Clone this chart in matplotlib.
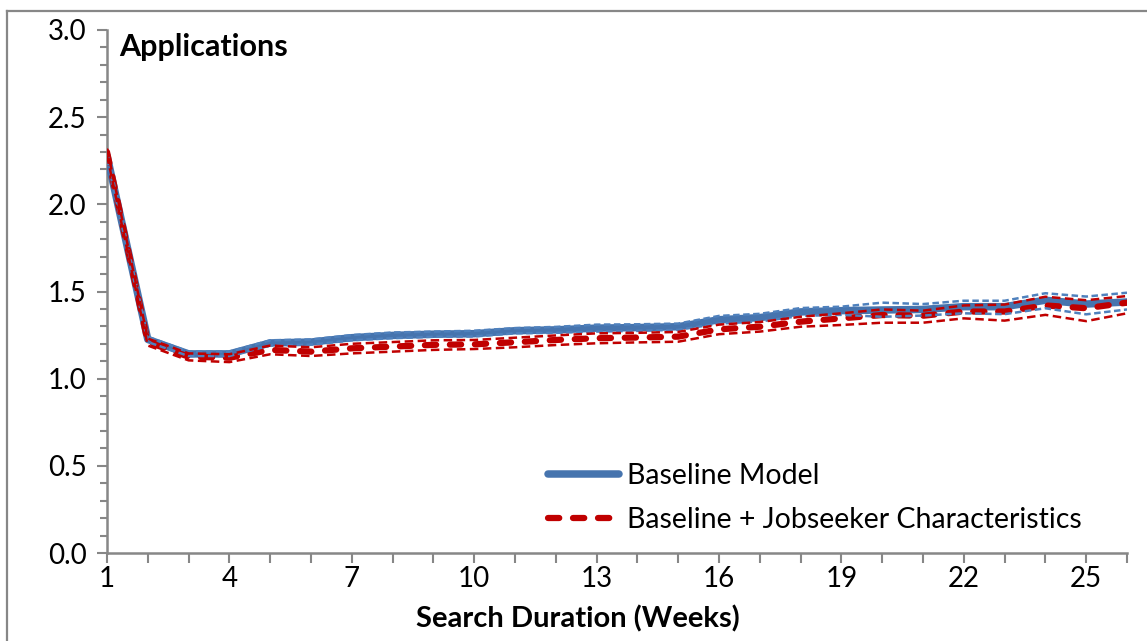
import matplotlib
matplotlib.use("Agg")
import matplotlib.pyplot as plt
from matplotlib.lines import Line2D
from matplotlib.ticker import MultipleLocator, FormatStrFormatter

weeks = list(range(1, 27))
x_tick_labels = [str(w) if (w - 1) % 3 == 0 else "" for w in weeks]

baseline = [2.28, 1.225, 1.142, 1.142, 1.205, 1.21, 1.235, 1.248, 1.255, 1.258,
            1.275, 1.28, 1.29, 1.293, 1.298, 1.338, 1.35, 1.383, 1.39, 1.394,
            1.397, 1.413, 1.413, 1.45, 1.428, 1.44]
baseline_hi = [2.30, 1.24, 1.155, 1.155, 1.22, 1.225, 1.25, 1.265, 1.27, 1.275,
               1.29, 1.297, 1.31, 1.312, 1.316, 1.36, 1.372, 1.405, 1.413, 1.436,
               1.428, 1.447, 1.447, 1.49, 1.471, 1.493]
baseline_lo = [2.26, 1.21, 1.13, 1.13, 1.19, 1.195, 1.22, 1.232, 1.24, 1.242,
               1.26, 1.263, 1.27, 1.274, 1.28, 1.316, 1.328, 1.36, 1.366, 1.355,
               1.362, 1.375, 1.37, 1.404, 1.369, 1.397]

jobseeker = [2.30, 1.21, 1.126, 1.12, 1.165, 1.155, 1.174, 1.184, 1.194, 1.197,
             1.209, 1.222, 1.232, 1.236, 1.241, 1.283, 1.298, 1.327, 1.346, 1.365,
             1.361, 1.385, 1.385, 1.42, 1.404, 1.436]
jobseeker_hi = [2.32, 1.23, 1.145, 1.14, 1.19, 1.18, 1.20, 1.21, 1.22, 1.222,
                1.235, 1.248, 1.26, 1.263, 1.268, 1.31, 1.325, 1.355, 1.375, 1.397,
                1.39, 1.42, 1.425, 1.47, 1.45, 1.474]
jobseeker_lo = [2.28, 1.19, 1.105, 1.095, 1.14, 1.13, 1.145, 1.155, 1.165, 1.17,
                1.18, 1.193, 1.203, 1.208, 1.212, 1.255, 1.27, 1.298, 1.308, 1.321,
                1.321, 1.346, 1.333, 1.366, 1.33, 1.375]

series_labels = ["Baseline Model", "Baseline + Jobseeker Characteristics"]
title_text = "Applications"
xlabel_text = "Search Duration (Weeks)"

BLUE = "#4674AE"
BLUE_CI = "#4F81BD"
RED = "#C00000"
AXIS_GRAY = "#878787"

plt.rcParams['font.family'] = ['Lato', 'DejaVu Sans']

fig = plt.figure(figsize=(11.47, 6.41), dpi=100)
ax = fig.add_axes([107 / 1147, 1 - 553 / 641, (1127 - 107) / 1147, (553 - 30) / 641])

# figure frame (left and top edges)
fig.add_artist(Line2D([7 / 1147, 7 / 1147], [0, 1 - 11 / 641], transform=fig.transFigure,
                      color=AXIS_GRAY, lw=1.6))
fig.add_artist(Line2D([7 / 1147, 1], [1 - 11 / 641, 1 - 11 / 641], transform=fig.transFigure,
                      color=AXIS_GRAY, lw=1.6))

l1, = ax.plot(weeks, baseline, color=BLUE, lw=5.4, solid_capstyle='round',
              solid_joinstyle='round', label=series_labels[0], zorder=3)
l2, = ax.plot(weeks, jobseeker, color=RED, lw=4.5, dashes=(1.8, 2.2),
              dash_capstyle='round', dash_joinstyle='round', label=series_labels[1], zorder=4)
for arr in (baseline_hi, baseline_lo):
    ax.plot(weeks, arr, color=BLUE_CI, lw=1.8, dashes=(2.6, 1.4), zorder=5)
for arr in (jobseeker_hi, jobseeker_lo):
    ax.plot(weeks, arr, color=RED, lw=1.8, dashes=(3.4, 1.8), zorder=5)

ax.set_xlim(1, 26)
ax.set_ylim(0, 3.0)
ax.set_xticks(weeks)
ax.set_xticklabels(x_tick_labels)
ax.yaxis.set_major_locator(MultipleLocator(0.5))
ax.yaxis.set_minor_locator(MultipleLocator(0.1))
ax.yaxis.set_major_formatter(FormatStrFormatter('%.1f'))

for s in ('top', 'right'):
    ax.spines[s].set_visible(False)
for s in ('left', 'bottom'):
    ax.spines[s].set_color(AXIS_GRAY)
    ax.spines[s].set_linewidth(1.8)

ax.tick_params(axis='y', which='major', direction='out', length=7.5, width=1.5,
               color=AXIS_GRAY, labelsize=20, pad=7)
ax.tick_params(axis='y', which='minor', direction='out', length=5, width=1.5,
               color=AXIS_GRAY)
ax.tick_params(axis='x', which='major', direction='out', length=7.5, width=1.5,
               color=AXIS_GRAY, labelsize=20, pad=2)

ax.text(0.012, 0.995, title_text, transform=ax.transAxes, ha='left', va='top',
        fontsize=22, fontweight='bold')

fig.text(578 / 1147, 1 - 619 / 641, xlabel_text, ha='center', va='center',
         fontsize=21, fontweight='bold')

leg = ax.legend(handles=[l1, l2], loc='center left', bbox_to_anchor=(0.432, 0.105),
                frameon=False, fontsize=20.5, handlelength=2.5, handletextpad=0.28,
                labelspacing=0.65, borderpad=0, borderaxespad=0)

fig.savefig("out.png", dpi=100)
